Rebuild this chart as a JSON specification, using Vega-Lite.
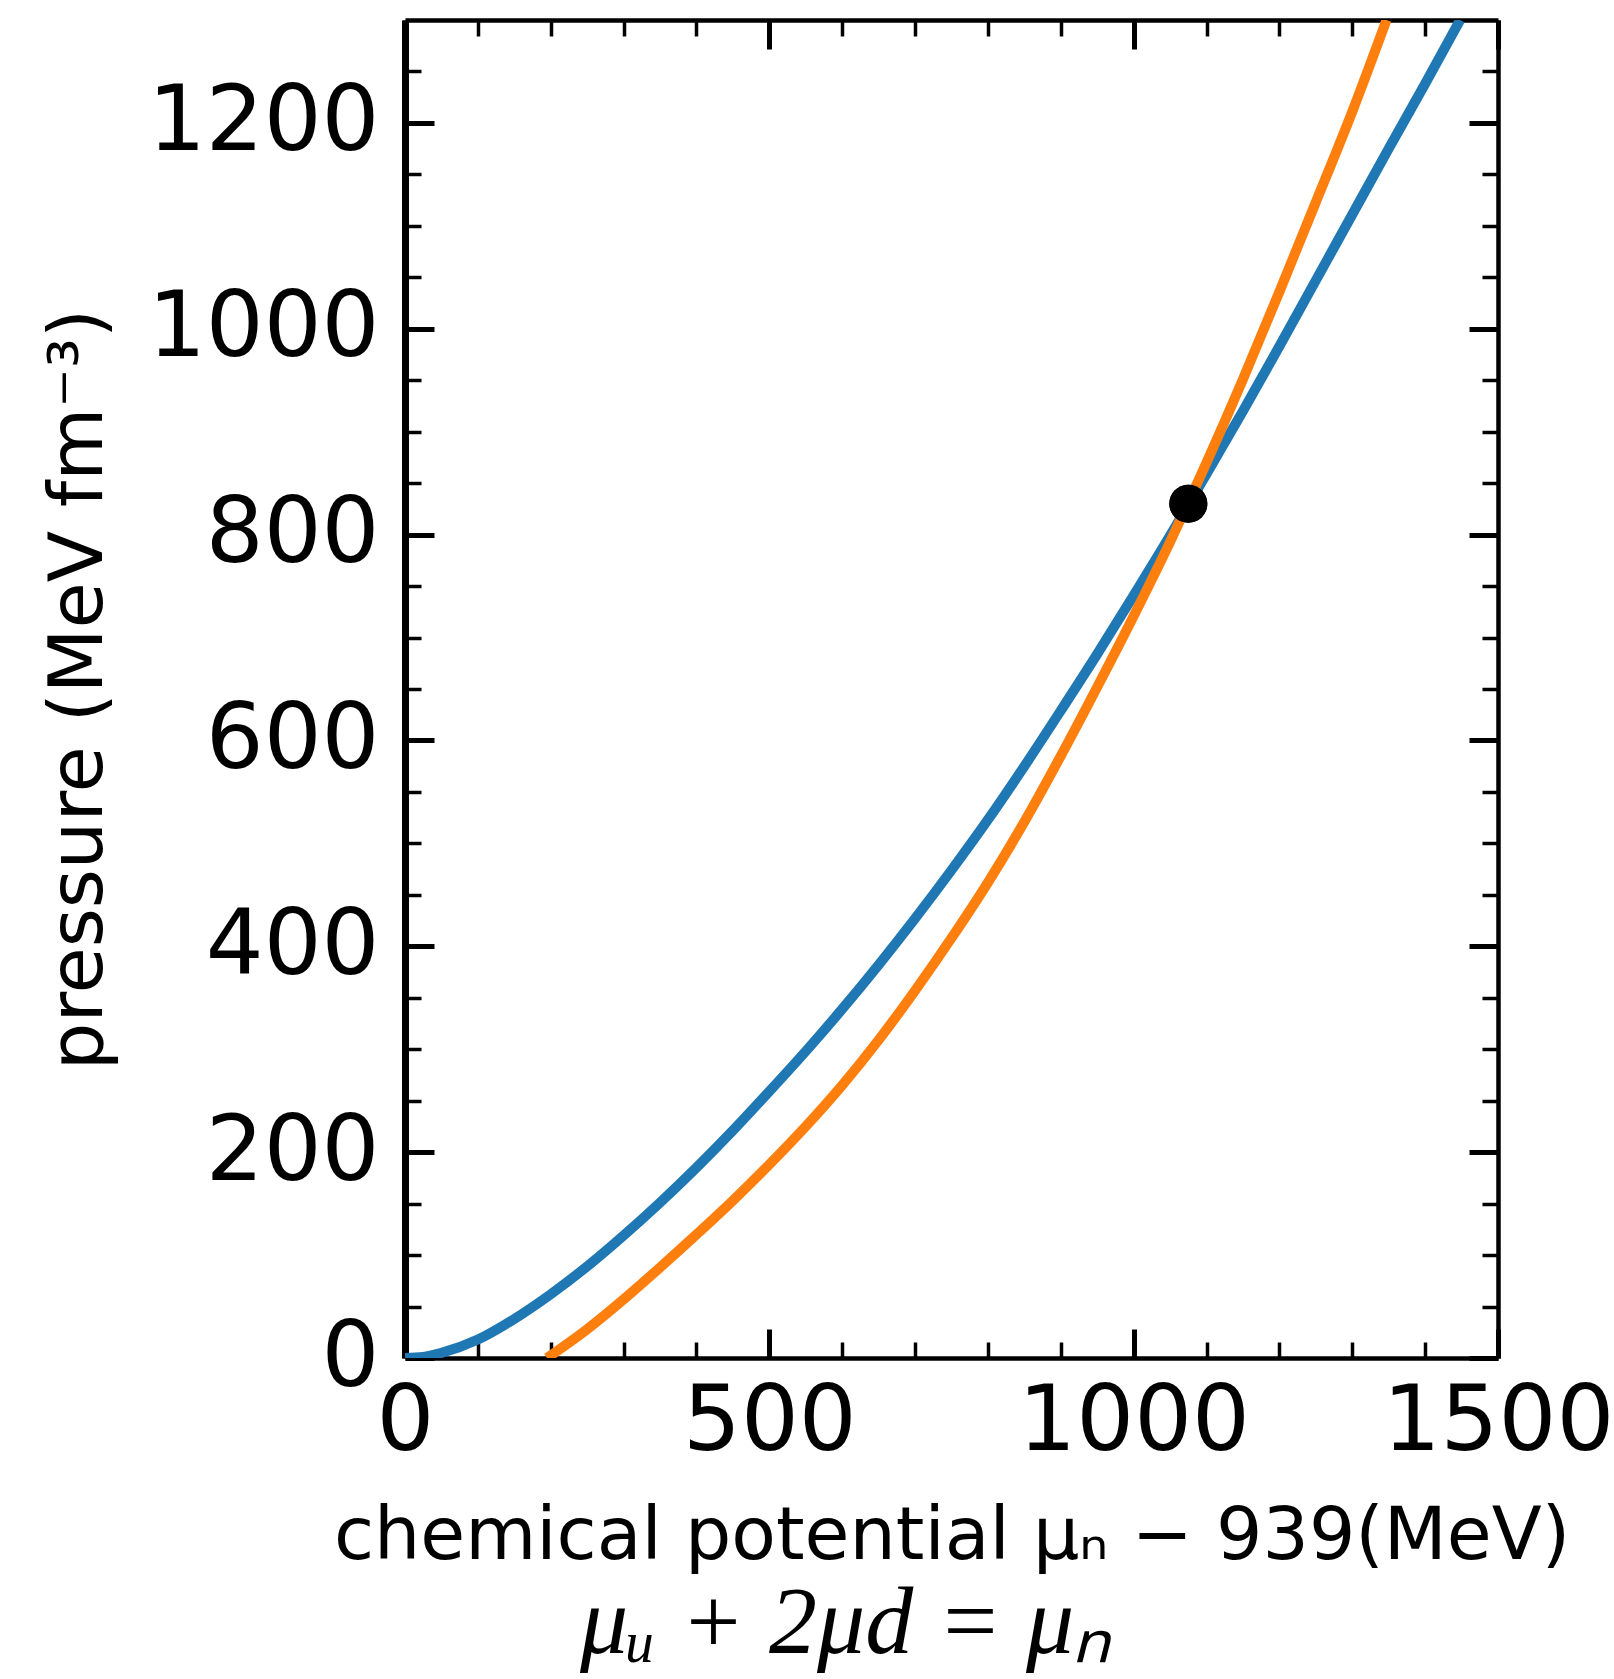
{
  "$schema": "https://vega.github.io/schema/vega-lite/v6.json",
  "width": 1093,
  "height": 1338,
  "autosize": "none",
  "padding": {"left": 405, "top": 20, "right": 116, "bottom": 321},
  "background": "white",
  "config": {
    "view": {"stroke": null},
    "axis": {
      "grid": false,
      "domainColor": "black",
      "tickColor": "black",
      "labelColor": "black",
      "titleColor": "black",
      "labelFont": "DejaVu Sans",
      "titleFont": "DejaVu Sans",
      "labelFontSize": 91,
      "titleFontSize": 73,
      "titleFontWeight": "normal",
      "labelFlush": false,
      "labelOverlap": false,
      "labelBound": false,
      "labelLimit": 0,
      "format": "d",
      "domainWidth": 4.5
    }
  },
  "datasets": {
    "curves": [
      {"mu": 0, "p": 0, "s": "blue"},
      {"mu": 25, "p": 1, "s": "blue"},
      {"mu": 50, "p": 5, "s": "blue"},
      {"mu": 100, "p": 18, "s": "blue"},
      {"mu": 150, "p": 38, "s": "blue"},
      {"mu": 200, "p": 62, "s": "blue"},
      {"mu": 250, "p": 89, "s": "blue"},
      {"mu": 300, "p": 119, "s": "blue"},
      {"mu": 350, "p": 151, "s": "blue"},
      {"mu": 400, "p": 185, "s": "blue"},
      {"mu": 450, "p": 221, "s": "blue"},
      {"mu": 500, "p": 259, "s": "blue"},
      {"mu": 550, "p": 298, "s": "blue"},
      {"mu": 600, "p": 339, "s": "blue"},
      {"mu": 650, "p": 382, "s": "blue"},
      {"mu": 700, "p": 427, "s": "blue"},
      {"mu": 750, "p": 474, "s": "blue"},
      {"mu": 800, "p": 523, "s": "blue"},
      {"mu": 850, "p": 575, "s": "blue"},
      {"mu": 900, "p": 629, "s": "blue"},
      {"mu": 950, "p": 684, "s": "blue"},
      {"mu": 1000, "p": 741, "s": "blue"},
      {"mu": 1050, "p": 799, "s": "blue"},
      {"mu": 1075, "p": 829, "s": "blue"},
      {"mu": 1100, "p": 859, "s": "blue"},
      {"mu": 1150, "p": 920, "s": "blue"},
      {"mu": 1200, "p": 983, "s": "blue"},
      {"mu": 1250, "p": 1047, "s": "blue"},
      {"mu": 1300, "p": 1111, "s": "blue"},
      {"mu": 1350, "p": 1175, "s": "blue"},
      {"mu": 1400, "p": 1238, "s": "blue"},
      {"mu": 1448, "p": 1300, "s": "blue"},
      {"mu": 195, "p": 0, "s": "orange"},
      {"mu": 250, "p": 28, "s": "orange"},
      {"mu": 300, "p": 57, "s": "orange"},
      {"mu": 350, "p": 88, "s": "orange"},
      {"mu": 400, "p": 120, "s": "orange"},
      {"mu": 450, "p": 153, "s": "orange"},
      {"mu": 500, "p": 188, "s": "orange"},
      {"mu": 550, "p": 225, "s": "orange"},
      {"mu": 600, "p": 265, "s": "orange"},
      {"mu": 650, "p": 309, "s": "orange"},
      {"mu": 700, "p": 357, "s": "orange"},
      {"mu": 750, "p": 408, "s": "orange"},
      {"mu": 800, "p": 462, "s": "orange"},
      {"mu": 850, "p": 521, "s": "orange"},
      {"mu": 900, "p": 585, "s": "orange"},
      {"mu": 950, "p": 652, "s": "orange"},
      {"mu": 1000, "p": 721, "s": "orange"},
      {"mu": 1050, "p": 793, "s": "orange"},
      {"mu": 1075, "p": 831, "s": "orange"},
      {"mu": 1100, "p": 870, "s": "orange"},
      {"mu": 1150, "p": 951, "s": "orange"},
      {"mu": 1200, "p": 1036, "s": "orange"},
      {"mu": 1250, "p": 1123, "s": "orange"},
      {"mu": 1300, "p": 1211, "s": "orange"},
      {"mu": 1347, "p": 1300, "s": "orange"}
    ],
    "dot": [{"mu": 1075, "p": 830}]
  },
  "title": {
    "text": "μᵤ + 2μd = μₙ",
    "orient": "bottom",
    "anchor": "middle",
    "frame": "group",
    "dx": -105,
    "offset": 4,
    "font": "Liberation Serif",
    "fontStyle": "italic",
    "fontSize": 96,
    "fontWeight": "normal",
    "color": "black"
  },
  "resolve": {"axis": {"x": "independent", "y": "independent"}},
  "layer": [
    {
      "data": {"name": "curves"},
      "transform": [{"filter": "datum.s === 'blue'"}],
      "mark": {"type": "line", "color": "#1f77b4", "strokeWidth": 10, "clip": true, "interpolate": "monotone"},
      "encoding": {
        "x": {
          "field": "mu", "type": "quantitative",
          "scale": {"domain": [0, 1500], "nice": false, "zero": false},
          "axis": {"orient": "bottom", "values": [0, 500, 1000, 1500], "tickSize": -29, "tickWidth": 5, "labelPadding": 48, "title": "chemical potential μₙ − 939(MeV)", "titlePadding": 33}
        },
        "y": {
          "field": "p", "type": "quantitative",
          "scale": {"domain": [0, 1300], "nice": false, "zero": false},
          "axis": {"orient": "left", "values": [0, 200, 400, 600, 800, 1000, 1200], "tickSize": -29, "tickWidth": 5, "labelPadding": 55, "title": "pressure (MeV fm⁻³)", "titleFontSize": 75, "titlePadding": 88, "domainWidth": 7}
        }
      }
    },
    {
      "data": {"name": "curves"},
      "transform": [{"filter": "datum.s === 'orange'"}],
      "mark": {"type": "line", "color": "#ff7f0e", "strokeWidth": 10, "clip": true, "interpolate": "monotone"},
      "encoding": {
        "x": {
          "field": "mu", "type": "quantitative",
          "axis": {"orient": "bottom", "values": [100, 200, 300, 400, 600, 700, 800, 900, 1100, 1200, 1300, 1400], "tickSize": -16, "tickWidth": 3.5, "labels": false, "domain": false, "title": null}
        },
        "y": {
          "field": "p", "type": "quantitative",
          "axis": {"orient": "left", "values": [50, 100, 150, 250, 300, 350, 450, 500, 550, 650, 700, 750, 850, 900, 950, 1050, 1100, 1150, 1250], "tickSize": -16, "tickWidth": 3.5, "labels": false, "domain": false, "title": null}
        }
      }
    },
    {
      "data": {"name": "dot"},
      "mark": {"type": "circle", "color": "black", "opacity": 1, "size": 1450},
      "encoding": {
        "x": {
          "field": "mu", "type": "quantitative",
          "axis": {"orient": "top", "values": [0, 500, 1000, 1500], "tickSize": -29, "tickWidth": 5, "labels": false, "title": null}
        },
        "y": {
          "field": "p", "type": "quantitative",
          "axis": {"orient": "right", "values": [0, 200, 400, 600, 800, 1000, 1200], "tickSize": -29, "tickWidth": 5, "labels": false, "title": null}
        }
      }
    },
    {
      "data": {"name": "dot"},
      "mark": {"type": "circle", "color": "black", "opacity": 1, "size": 1450},
      "encoding": {
        "x": {
          "field": "mu", "type": "quantitative",
          "axis": {"orient": "top", "values": [100, 200, 300, 400, 600, 700, 800, 900, 1100, 1200, 1300, 1400], "tickSize": -16, "tickWidth": 3.5, "labels": false, "domain": false, "title": null}
        },
        "y": {
          "field": "p", "type": "quantitative",
          "axis": {"orient": "right", "values": [50, 100, 150, 250, 300, 350, 450, 500, 550, 650, 700, 750, 850, 900, 950, 1050, 1100, 1150, 1250], "tickSize": -16, "tickWidth": 3.5, "labels": false, "domain": false, "title": null}
        }
      }
    }
  ]
}
